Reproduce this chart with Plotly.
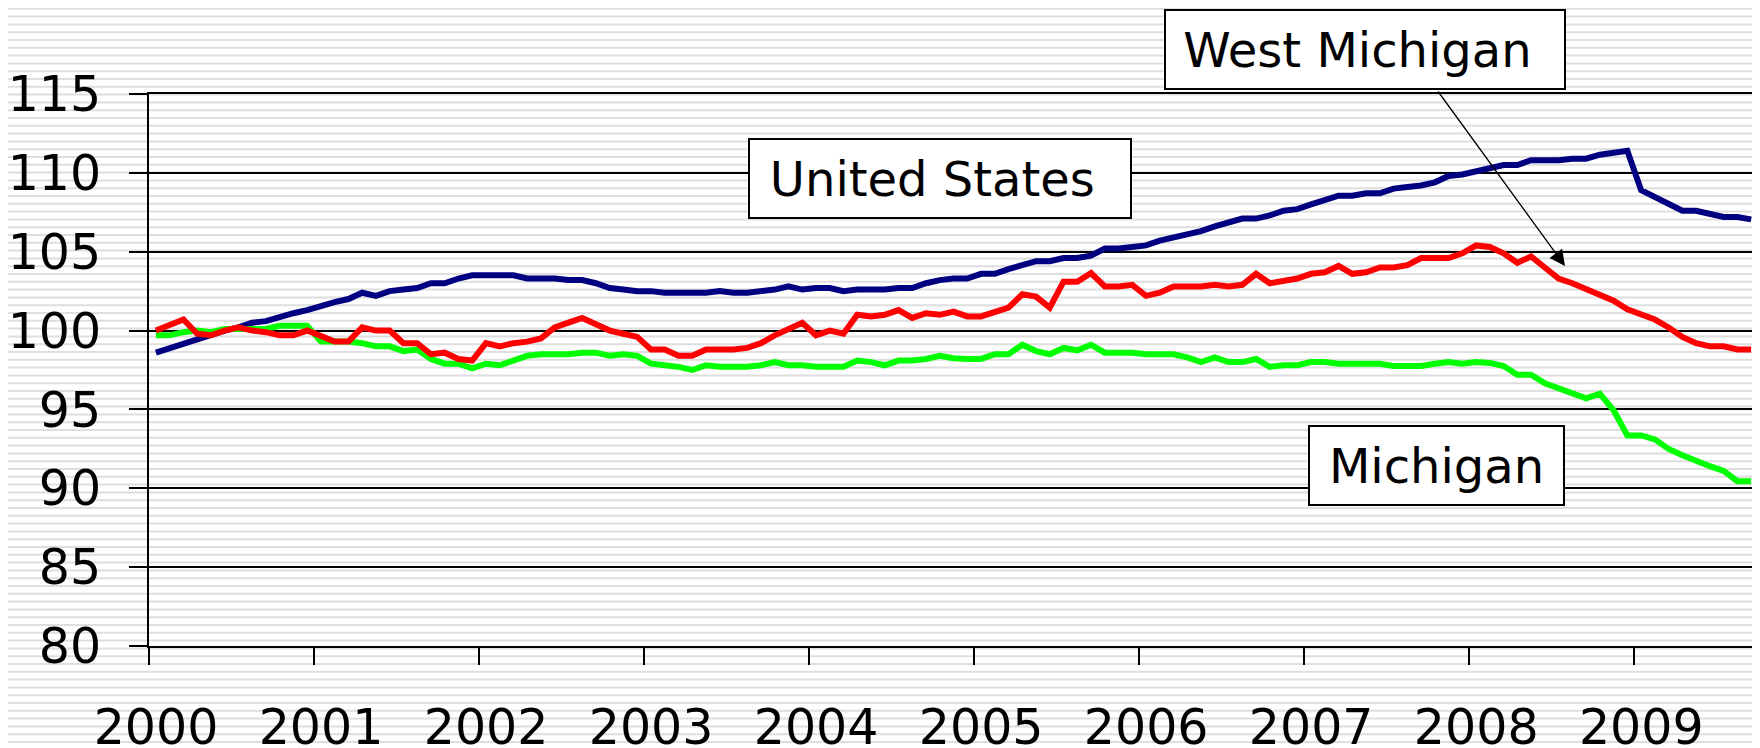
import plotly.graph_objects as go

# Monthly index values, Jan 2000 .. Sep 2009 (117 months)
united_states = [
    98.6, 98.9, 99.2, 99.5, 99.7, 100.0, 100.2, 100.5, 100.6, 100.9, 101.1, 101.3,
    101.6, 101.8, 102.0, 102.4, 102.2, 102.5, 102.6, 102.7, 103.0, 103.0, 103.3, 103.5,
    103.5, 103.5, 103.5, 103.3, 103.3, 103.3, 103.2, 103.2, 103.0, 102.7, 102.6, 102.5,
    102.5, 102.4, 102.4, 102.4, 102.4, 102.5, 102.4, 102.4, 102.5, 102.6, 102.8, 102.6,
    102.7, 102.7, 102.5, 102.6, 102.6, 102.6, 102.7, 102.7, 103.0, 103.2, 103.3, 103.3,
    103.6, 103.6, 103.9, 104.2, 104.4, 104.4, 104.6, 104.6, 104.75, 105.2, 105.2, 105.3,
    105.4, 105.7, 105.9, 106.1, 106.3, 106.6, 106.9, 107.1, 107.1, 107.3, 107.6, 107.7,
    108.0, 108.3, 108.55, 108.55, 108.7, 108.7, 109.0, 109.1, 109.2, 109.4, 109.8, 109.9,
    110.1, 110.3, 110.5, 110.5, 110.8, 110.8, 110.8, 110.9, 110.9, 111.15, 111.3, 111.4,
    108.9, 108.5, 108.1, 107.6, 107.6, 107.4, 107.2, 107.2, 107.05,
]
west_michigan = [
    100.0, 100.4, 100.7, 99.8, 99.7, 100.0, 100.2, 100.0, 99.9, 99.7, 99.7, 100.0,
    99.6, 99.3, 99.3, 100.2, 100.0, 100.0, 99.2, 99.2, 98.5, 98.6, 98.2, 98.1,
    99.2, 99.0, 99.2, 99.3, 99.5, 100.2, 100.5, 100.8, 100.4, 100.0, 99.8, 99.6,
    98.8, 98.8, 98.4, 98.4, 98.8, 98.8, 98.8, 98.9, 99.2, 99.7, 100.1, 100.5,
    99.7, 100.0, 99.8, 101.0, 100.9, 101.0, 101.3, 100.8, 101.1, 101.0, 101.2, 100.9,
    100.9, 101.2, 101.45, 102.3, 102.15, 101.45, 103.1, 103.1, 103.65, 102.8, 102.8, 102.9,
    102.2, 102.4, 102.8, 102.8, 102.8, 102.9, 102.8, 102.9, 103.6, 103.0, 103.15, 103.3,
    103.6, 103.7, 104.1, 103.6, 103.7, 104.0, 104.0, 104.15, 104.6, 104.6, 104.6, 104.9,
    105.4, 105.3, 104.9, 104.3, 104.7, 104.0, 103.3, 103.0, 102.6, 102.3, 101.9, 101.35,
    101.0, 100.7, 100.2, 99.6, 99.2, 99.0, 99.0, 98.8, 98.8,
]
michigan = [
    99.7, 99.7, 99.9, 100.0, 99.9, 100.1, 100.1, 100.1, 100.1, 100.3, 100.3, 100.3,
    99.3, 99.3, 99.3, 99.2, 99.0, 99.0, 98.7, 98.8, 98.2, 97.9, 97.9, 97.6,
    97.9, 97.8, 98.1, 98.4, 98.5, 98.5, 98.5, 98.6, 98.6, 98.4, 98.5, 98.4,
    97.9, 97.8, 97.7, 97.5, 97.8, 97.7, 97.7, 97.7, 97.8, 98.0, 97.8, 97.8,
    97.7, 97.7, 97.7, 98.1, 98.0, 97.8, 98.1, 98.1, 98.2, 98.4, 98.25, 98.2,
    98.2, 98.5, 98.5, 99.1, 98.7, 98.5, 98.9, 98.75, 99.1, 98.6, 98.6, 98.6,
    98.5, 98.5, 98.5, 98.3, 98.0, 98.3, 98.0, 98.0, 98.2, 97.7, 97.8, 97.8,
    98.0, 98.0, 97.9, 97.9, 97.9, 97.9, 97.75, 97.75, 97.75, 97.9, 98.0, 97.9,
    98.0, 97.95, 97.75, 97.2, 97.2, 96.65, 96.3, 96.0, 95.7, 96.0, 94.95, 93.35,
    93.35, 93.1, 92.5, 92.1, 91.8, 91.4, 91.1, 90.45, 90.45,
]
year_labels = ["2000", "2001", "2002", "2003", "2004", "2005", "2006", "2007", "2008", "2009"]
y_ticks = [80, 85, 90, 95, 100, 105, 110, 115]

n = len(united_states)
months = list(range(n))

FONT = "DejaVu Sans, Verdana, sans-serif"

fig = go.Figure()
fig.add_trace(go.Scatter(x=months, y=united_states, mode="lines", name="United States",
                         line=dict(color="#000080", width=6)))
fig.add_trace(go.Scatter(x=months, y=michigan, mode="lines", name="Michigan",
                         line=dict(color="#00ff00", width=6)))
fig.add_trace(go.Scatter(x=months, y=west_michigan, mode="lines", name="West Michigan",
                         line=dict(color="#ff0000", width=6)))

# page offset of the figure div (default body margin)
OFF = 8
W, H = 1760 - OFF, 748 - OFF
ml, mr, mt, mb = 149 - OFF, 2, 94 - OFF, 102
pw, ph = W - ml - mr, H - mt - mb


def px_to_paper(px, py):
    # px, py: absolute page pixels
    return (px - OFF - ml) / pw, (H - mb - (py - OFF)) / ph


# striped background (decoration)
shapes = []
period = 7.8
k = 0
while k * period < 760:
    py = 1 + k * period
    _, yp = px_to_paper(0, py)
    shapes.append(dict(type="line", xref="paper", yref="paper",
                       x0=-ml / pw, x1=1 + mr / pw, y0=yp, y1=yp,
                       line=dict(color="#dedede", width=2), layer="below"))
    k += 1

tickpos = [12 * i - 0.5 for i in range(len(year_labels))]

fig.update_layout(
    width=W, height=H,
    margin=dict(l=ml, r=mr, t=mt, b=mb, pad=0),
    paper_bgcolor="white",
    plot_bgcolor="rgba(0,0,0,0)",
    showlegend=False,
    font=dict(family=FONT, size=49, color="black"),
    shapes=shapes,
    xaxis=dict(
        range=[-0.5, n - 0.5],
        tickmode="array", tickvals=tickpos, ticktext=year_labels,
        ticks="outside", ticklen=17, tickwidth=2, tickcolor="black",
        ticklabelshift=7, ticklabelstandoff=20,
        showgrid=False, zeroline=False, automargin=False,
        showline=True, linecolor="black", linewidth=2, mirror=True,
        tickfont=dict(family=FONT, size=49, color="black"),
    ),
    yaxis=dict(
        range=[80, 115],
        tickmode="array", tickvals=y_ticks, ticktext=[str(v) for v in y_ticks],
        ticks="outside", ticklen=18, tickwidth=2, tickcolor="black",
        ticklabelstandoff=18, automargin=False,
        showgrid=True, gridcolor="black", gridwidth=2,
        zeroline=False,
        showline=True, linecolor="black", linewidth=2, mirror=True,
        tickfont=dict(family=FONT, size=49, color="black"),
    ),
)

box_font = dict(family=FONT, size=48, color="black")
boxes = [
    ("United States&nbsp;", 940, 178, 380),
    ("West Michigan&nbsp;", 1365, 49.5, 398),
    ("Michigan", 1436.5, 465.5, 253),
]
for label, cx, cy, bw in boxes:
    xp, yp = px_to_paper(cx, cy)
    fig.add_annotation(x=xp, y=yp, xref="paper", yref="paper", text=label,
                       showarrow=False, font=box_font, bgcolor="white",
                       bordercolor="black", borderwidth=2, borderpad=0,
                       width=bw, height=77, xanchor="center", yanchor="middle")

tip_px, tail_px = (1565, 266), (1437, 90)
tip = px_to_paper(*tip_px)
fig.add_annotation(x=tip[0], y=tip[1], xref="paper", yref="paper",
                   ax=tail_px[0] - tip_px[0], ay=tail_px[1] - tip_px[1],
                   axref="pixel", ayref="pixel",
                   text="", showarrow=True, arrowhead=2, arrowsize=2.4,
                   arrowwidth=1.3, arrowcolor="black")

fig.write_html("out.html")
